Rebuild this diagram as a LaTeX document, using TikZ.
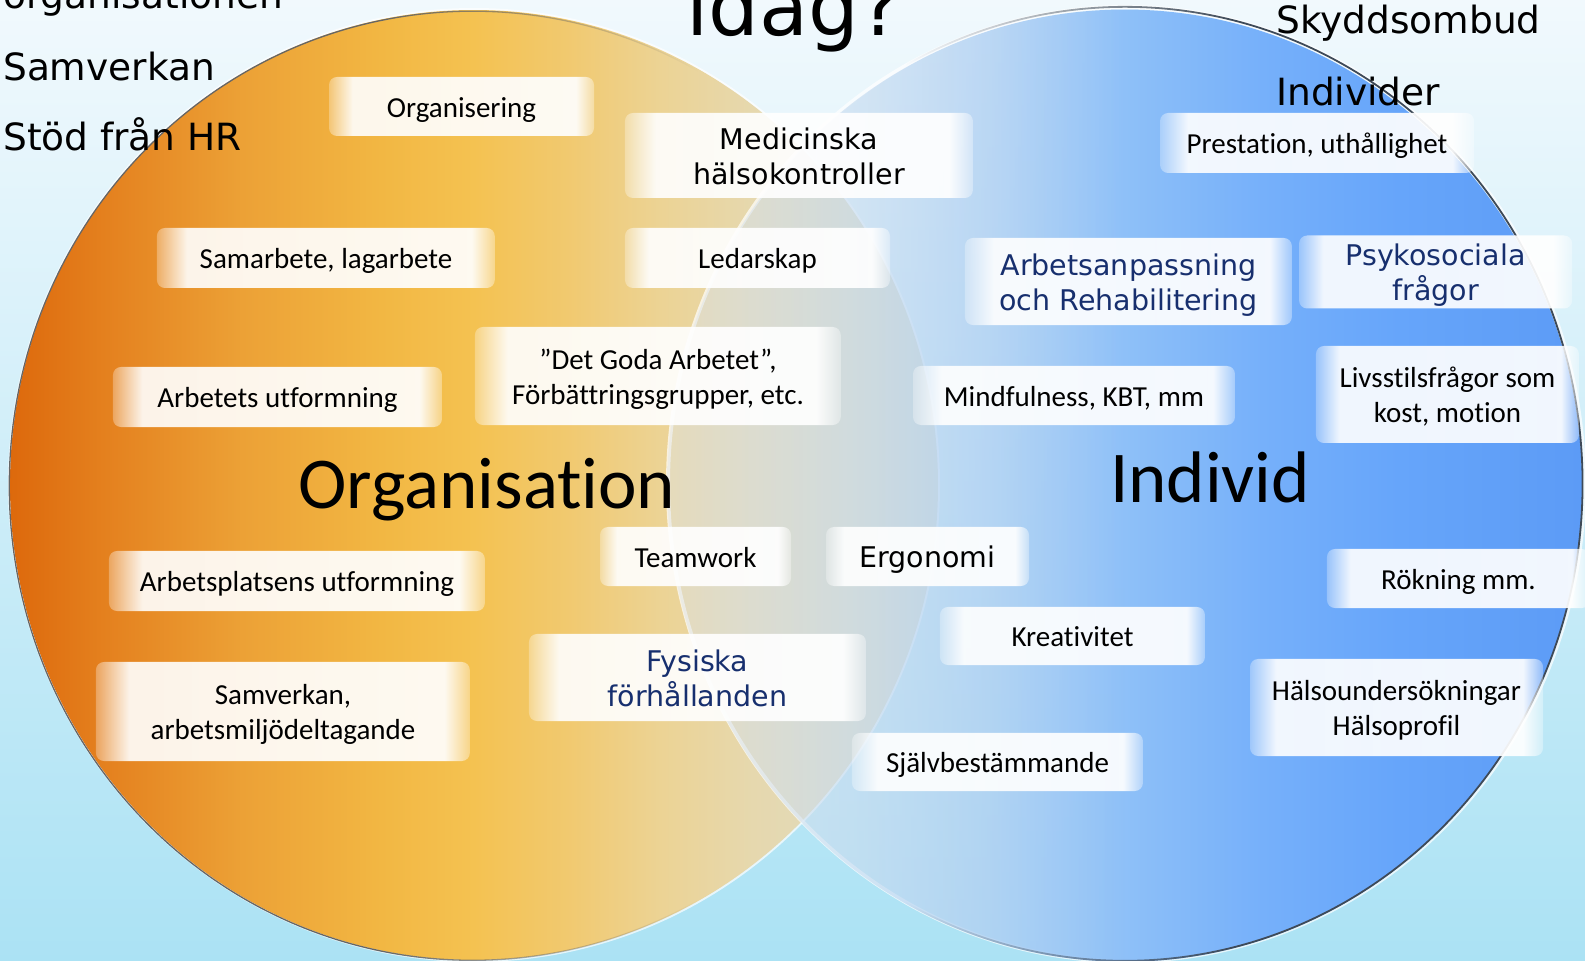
\documentclass[tikz,border=0pt]{standalone}
\usepackage{fontspec}
\setmainfont{Carlito}[Ligatures=NoCommon]
\newfontfamily\dvfont{DejaVu Sans}
\usetikzlibrary{fadings}

% palette
\definecolor{bgtop}{HTML}{F1F9FD}
\definecolor{bgmid}{HTML}{CDEBF8}
\definecolor{bgbot}{HTML}{ABE2F4}
\definecolor{og0}{HTML}{DD690C}
\definecolor{og1}{HTML}{E4801E}
\definecolor{og2}{HTML}{ECA136}
\definecolor{og3}{HTML}{F2B743}
\definecolor{og4}{HTML}{F4C251}
\definecolor{og5}{HTML}{F1C96F}
\definecolor{og6}{HTML}{ECD394}
\definecolor{og7}{HTML}{E6D8AE}
\definecolor{og8}{HTML}{DADCC8}
\definecolor{ib0}{HTML}{DFE4E8}
\definecolor{ib1}{HTML}{C8DCF0}
\definecolor{ib2}{HTML}{B0D0F2}
\definecolor{ib3}{HTML}{8EC0F8}
\definecolor{ib4}{HTML}{76B0FA}
\definecolor{ib5}{HTML}{66A5FA}
\definecolor{ib6}{HTML}{5C9BF6}
\definecolor{navytext}{HTML}{172F6E}
\definecolor{rimdark}{HTML}{3E4A58}

% ellipse fills
\pgfdeclarehorizontalshading{orgshade}{100bp}{color(0bp)=(og0); color(25bp)=(og0);
  color(30bp)=(og1); color(37.5bp)=(og2); color(45bp)=(og3); color(50bp)=(og4);
  color(55bp)=(og5); color(60bp)=(og6); color(65bp)=(og7); color(75bp)=(og8); color(100bp)=(og8)}
\pgfdeclarehorizontalshading{indshade}{100bp}{color(0bp)=(ib0); color(25bp)=(ib0);
  color(35bp)=(ib1); color(42.5bp)=(ib2); color(50bp)=(ib3); color(57.5bp)=(ib4);
  color(65bp)=(ib5); color(75bp)=(ib6); color(100bp)=(ib6)}

% fadings
\pgfdeclarehorizontalshading{boxfadeshade}{100bp}{color(0bp)=(pgftransparent!100);
  color(25bp)=(pgftransparent!72); color(29.5bp)=(pgftransparent!10);
  color(71.5bp)=(pgftransparent!8); color(75bp)=(pgftransparent!70); color(100bp)=(pgftransparent!100)}
\pgfdeclarefading{boxfade}{\pgfuseshading{boxfadeshade}}
\pgfdeclarehorizontalshading{indfadeshade}{100bp}{color(0bp)=(pgftransparent!55);
  color(25bp)=(pgftransparent!55); color(40bp)=(pgftransparent!25);
  color(50bp)=(pgftransparent!0); color(100bp)=(pgftransparent!0)}
\pgfdeclarefading{indfade}{\pgfuseshading{indfadeshade}}
\pgfdeclarehorizontalshading{lrimshade}{100bp}{color(0bp)=(pgftransparent!0);
  color(45bp)=(pgftransparent!0); color(62bp)=(pgftransparent!100); color(100bp)=(pgftransparent!100)}
\pgfdeclarefading{lrimfade}{\pgfuseshading{lrimshade}}
\pgfdeclarehorizontalshading{rrimshade}{100bp}{color(0bp)=(pgftransparent!100);
  color(38bp)=(pgftransparent!100); color(56bp)=(pgftransparent!0); color(100bp)=(pgftransparent!0)}
\pgfdeclarefading{rrimfade}{\pgfuseshading{rrimshade}}

% fixed line struts so every box centres its text the same way
\newcommand{\cbtop}{\rule{0pt}{29pt}}
\newcommand{\dvtop}{\rule{0pt}{30pt}}
\newcommand{\lnbot}{\rule[-8pt]{0pt}{8pt}}

\tikzset{
  box/.style={fill=white, path fading=boxfade, fit fading=true, rounded corners=8pt,
    inner sep=0pt, align=center, text=black, font=\fontsize{29}{35}\selectfont},
  dvbox/.style={box, font=\dvfont\fontsize{28.5}{35}\selectfont},
  navy/.style={text=navytext},
  sidetext/.style={inner sep=0pt, anchor=base west, font=\dvfont\fontsize{37.5}{40}\selectfont},
  bigtext/.style={inner sep=0pt, anchor=base, font=\fontsize{73}{80}\selectfont},
}

\begin{document}
\begin{tikzpicture}[x=1pt,y=-1pt]
\useasboundingbox (0,0) rectangle (1585,961);
% backdrop
\shade[top color=bgtop, middle color=bgmid, bottom color=bgbot] (0,0) rectangle (1585,961);

% the two overlapping ellipses
\draw[white, line width=4, opacity=.7] (474,485) ellipse [x radius=464, y radius=475];
\shade[shading=orgshade] (474,485) ellipse [x radius=464, y radius=475];
\draw[white, line width=4, opacity=.7] (1126,484) ellipse [x radius=458, y radius=477];
\shade[shading=indshade, path fading=indfade, fit fading=true] (1126,484) ellipse [x radius=458, y radius=477];
\draw[black!60, line width=1.3, path fading=lrimfade, fit fading=true] (474,485) ellipse [x radius=464, y radius=475];
\draw[rimdark, line width=1.8, path fading=rrimfade, fit fading=true] (1126,484) ellipse [x radius=458, y radius=477];

% side and top captions
\node[sidetext] (organisationen) at (3,9) {organisationen};
\node[sidetext] (samverkan) at (3,80) {Samverkan};
\node[sidetext] (stod) at (3,150) {Stöd från HR};
\node[sidetext] (skyddsombud) at (1276,33) {Skyddsombud};
\node[sidetext] (individer) at (1276,105) {Individer};
\node[inner sep=0pt, anchor=base west, font=\dvfont\fontsize{80}{90}\selectfont] (idag) at (686,35) {idag?};

% labelled boxes
\node[box, minimum width=265, minimum height=59] (organisering) at (461.5,106.5) {\cbtop Organisering\lnbot};
\node[dvbox, minimum width=348, minimum height=85] (medicinska) at (799,155.5) {\dvtop Medicinska\\hälsokontroller\lnbot};
\node[box, minimum width=314, minimum height=60] (prestation) at (1317,143) {\cbtop Prestation, uthållighet\lnbot};
\node[box, minimum width=338, minimum height=60] (samarbete) at (326,258) {\cbtop Samarbete, lagarbete\lnbot};
\node[box, minimum width=265, minimum height=60] (ledarskap) at (757.5,258) {\cbtop Ledarskap\lnbot};
\node[dvbox, navy, minimum width=327, minimum height=87] (arbetsanpassning) at (1128.5,281.5) {\dvtop Arbetsanpassning\\och Rehabilitering\lnbot};
\node[dvbox, navy, minimum width=273, minimum height=68] (psykosociala) at (1435.5,272) {\dvtop Psykosociala\\frågor\lnbot};
\node[box, minimum width=366, minimum height=98] (detgoda) at (658,376) {\cbtop ”Det Goda Arbetet”,\\Förbättringsgrupper, etc.\lnbot};
\node[box, minimum width=329, minimum height=60] (arbetets) at (277.5,397) {\cbtop Arbetets utformning\lnbot};
\node[box, minimum width=322, minimum height=59] (mindfulness) at (1074,395.5) {\cbtop Mindfulness, KBT, mm\lnbot};
\node[box, minimum width=263, minimum height=97] (livsstil) at (1447.5,394.5) {\cbtop Livsstilsfrågor som\\kost, motion\lnbot};
\node[box, minimum width=191, minimum height=59] (teamwork) at (695.5,556.5) {\cbtop Teamwork\lnbot};
\node[dvbox, minimum width=203, minimum height=59] (ergonomi) at (927.5,556.5) {\dvtop Ergonomi\lnbot};
\node[box, minimum width=376, minimum height=60] (arbetsplatsens) at (297,581) {\cbtop Arbetsplatsens utformning\lnbot};
\node[box, minimum width=263, minimum height=59] (rokning) at (1458.5,578.5) {\cbtop Rökning mm.\lnbot};
\node[box, minimum width=265, minimum height=58] (kreativitet) at (1072.5,636) {\cbtop Kreativitet\lnbot};
\node[dvbox, navy, minimum width=337, minimum height=87] (fysiska) at (697.5,677.5) {\dvtop Fysiska\\förhållanden\lnbot};
\node[box, minimum width=374, minimum height=99] (samverkanbox) at (283,711.5) {\cbtop Samverkan,\\arbetsmiljödeltagande\lnbot};
\node[box, minimum width=293, minimum height=97] (halso) at (1396.5,707.5) {\cbtop Hälsoundersökningar\\Hälsoprofil\lnbot};
\node[box, minimum width=291, minimum height=58] (sjalv) at (997.5,762) {\cbtop Självbestämmande\lnbot};

% circle titles
\node[bigtext] (organisation) at (487,508) {Organisation};
\node[bigtext] (individ) at (1210,502) {Individ};
\end{tikzpicture}
\end{document}
